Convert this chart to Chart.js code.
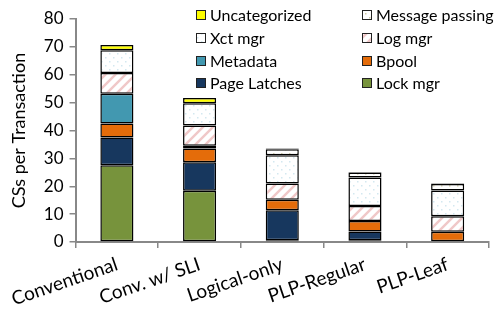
<!DOCTYPE html>
<html><head><meta charset="utf-8">
<script src="https://cdn.jsdelivr.net/npm/chart.js@4"></script>
<style>html,body{margin:0;padding:0;background:#fff}#wrap{width:500px;height:312px}</style>
</head><body><div id="wrap"><canvas id="c" width="500" height="312"></canvas></div>
<script>
const categories = ['Conventional', 'Conv. w/ SLI', 'Logical-only', 'PLP-Regular', 'PLP-Leaf'];
const lockMgr       = [27.5, 18.4, 0.6, 0.6, null];
const pageLatches   = [10.0, 10.2, 10.8, 3.2, null];
const bpool         = [5.0, 4.9, 3.8, 3.7, 3.7];
const metadata      = [10.7, 1.0, null, null, null];
const logMgr        = [7.4, 7.3, 5.8, 5.4, 5.5];
const xctMgr        = [8.2, 8.0, 10.1, 10.2, 9.3];
const msgPassing    = [null, null, 2.2, 1.8, 2.3];
const uncategorized = [1.9, 1.9, 0.2, 0.2, 0.2];
const yTicks = [0, 10, 20, 30, 40, 50, 60, 70, 80];

const FONT = 'Lato, "Open Sans", sans-serif';

function pattern(kind) {
  const c = document.createElement('canvas');
  const ctx = c.getContext('2d');
  if (kind === 'hatch') {
    c.width = 10; c.height = 10;
    ctx.fillStyle = '#fff'; ctx.fillRect(0, 0, 10, 10);
    ctx.strokeStyle = '#f0c8c8'; ctx.lineWidth = 2.5;
    ctx.beginPath();
    ctx.moveTo(-2, 12); ctx.lineTo(12, -2);
    ctx.moveTo(-7, 7); ctx.lineTo(7, -7);
    ctx.moveTo(3, 17); ctx.lineTo(17, 3);
    ctx.stroke();
  } else {
    c.width = 8; c.height = 8;
    ctx.fillStyle = '#fff'; ctx.fillRect(0, 0, 8, 8);
    ctx.fillStyle = kind === 'dots' ? '#d3e8f0' : '#cfcaa4';
    ctx.fillRect(1, 1, 1.5, 1.5);
    ctx.fillRect(5, 5, 1.5, 1.5);
  }
  return ctx.createPattern(c, 'repeat');
}

const fills = {
  lock: '#77933c', page: '#17375e', bpool: '#e46c0a', meta: '#4298b0',
  log: pattern('hatch'), xct: pattern('dots'), msg: pattern('msg'), unc: '#ffff00'
};

const datasets = [
  { label: 'Lock mgr', data: lockMgr, backgroundColor: fills.lock },
  { label: 'Page Latches', data: pageLatches, backgroundColor: fills.page },
  { label: 'Bpool', data: bpool, backgroundColor: fills.bpool },
  { label: 'Metadata', data: metadata, backgroundColor: fills.meta },
  { label: 'Log mgr', data: logMgr, backgroundColor: fills.log },
  { label: 'Xct mgr', data: xctMgr, backgroundColor: fills.xct },
  { label: 'Message passing', data: msgPassing, backgroundColor: fills.msg },
  { label: 'Uncategorized', data: uncategorized, backgroundColor: fills.unc }
].map(d => Object.assign(d, { borderColor: '#000', borderWidth: 1.5, borderSkipped: false,
  categoryPercentage: 1, barPercentage: 0.4 }));

const legendPlugin = {
  id: 'gridLegend',
  afterDraw(chart) {
    const ctx = chart.ctx;
    const order = datasets.slice().reverse();
    const cols = [196, 362], rows = [15, 38, 61, 83];
    ctx.save();
    ctx.font = '16px ' + FONT;
    ctx.textBaseline = 'middle';
    order.forEach((d, i) => {
      const x = cols[i % 2], y = rows[Math.floor(i / 2)];
      ctx.fillStyle = d.backgroundColor;
      ctx.fillRect(x, y - 5, 10, 10);
      ctx.strokeStyle = '#222'; ctx.lineWidth = 1;
      ctx.strokeRect(x + 0.5, y - 4.5, 9, 9);
      ctx.fillStyle = '#000';
      ctx.fillText(d.label, x + 14, y + 1);
    });
    ctx.restore();
  }
};

new Chart(document.getElementById('c'), {
  type: 'bar',
  data: { labels: categories, datasets },
  options: {
    responsive: false, animation: false,
    layout: { padding: { top: 19, right: 11, left: 0, bottom: 0 } },
    plugins: { legend: { display: false }, tooltip: { enabled: false } },
    scales: {
      x: {
        stacked: true,
        grid: { display: true, drawOnChartArea: false, offset: true, color: '#888', tickLength: 6, lineWidth: 1.5 },
        border: { color: '#888', width: 2 },
        ticks: { color: '#000', font: { family: FONT, size: 19 }, minRotation: 19, maxRotation: 19, padding: 5 },
        afterFit(s) { s.height = 70; }
      },
      y: {
        stacked: true, min: 0, max: 80,
        afterBuildTicks(s) { s.ticks = yTicks.map(v => ({ value: v })); },
        grid: { display: true, drawOnChartArea: false, color: '#888', tickLength: 6, lineWidth: 1.5 },
        border: { color: '#888', width: 2 },
        ticks: { color: '#000', font: { family: FONT, size: 17 }, padding: 6 },
        title: { display: true, text: 'CSs per Transaction', color: '#000', font: { family: FONT, size: 18 }, padding: { top: 5, bottom: 2 } },
        afterFit(s) { s.width = 72; }
      }
    }
  },
  plugins: [legendPlugin]
});
</script>
</body></html>
